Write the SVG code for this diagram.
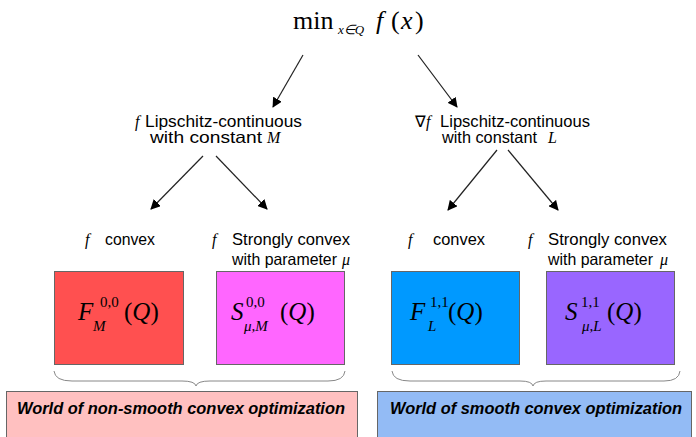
<svg xmlns="http://www.w3.org/2000/svg" width="696" height="437" viewBox="0 0 696 437">
<style>
.sans{font-family:"Liberation Sans",Arial,sans-serif;font-size:16.5px;fill:#000}
.math{font-family:"Liberation Serif","Times New Roman",serif;fill:#000}
.it{font-style:italic}
.box{stroke:#666;stroke-width:1}
.brace{fill:none;stroke:#888;stroke-width:1}
.world{font-family:"Liberation Sans",Arial,sans-serif;font-size:16.5px;font-weight:bold;font-style:italic;fill:#000}
.conn{stroke:#222;stroke-width:1.2;fill:none;marker-end:url(#ah)}
</style>
<defs>
<marker id="ah" viewBox="0 0 10 10" refX="9" refY="5" markerWidth="10" markerHeight="10" markerUnits="userSpaceOnUse" orient="auto">
<path d="M0,0 L10,5 L0,10 z" fill="#000"/>
</marker>
</defs>
<rect width="696" height="437" fill="#fff"/>

<g id="title">
<text class="math" x="293" y="29" font-size="26">min</text>
<text class="math it" x="338" y="34" font-size="13">x∈Q</text>
<text class="math it" x="376" y="29" font-size="26">f</text>
<text class="math" x="391" y="29" font-size="26">(</text>
<text class="math it" x="401" y="29" font-size="26">x</text>
<text class="math" x="415" y="29" font-size="26">)</text>
</g>

<g id="connectors">
<line class="conn" x1="303" y1="55" x2="273" y2="107"/>
<line class="conn" x1="418" y1="55" x2="457" y2="107"/>
<line class="conn" x1="203" y1="156" x2="151" y2="209"/>
<line class="conn" x1="216" y1="156" x2="267" y2="209"/>
<line class="conn" x1="497" y1="150" x2="448" y2="210"/>
<line class="conn" x1="508" y1="150" x2="558" y2="210"/>
</g>

<g id="lipschitz-f">
<text class="math it" x="135" y="127" font-size="16">f</text>
<text class="sans" x="145" y="127" textLength="157" lengthAdjust="spacingAndGlyphs">Lipschitz-continuous</text>
<text class="sans" x="150" y="143" textLength="112" lengthAdjust="spacingAndGlyphs">with constant</text>
<text class="math it" x="267" y="143" font-size="16">M</text>
</g>

<g id="lipschitz-grad">
<text class="math" x="415" y="127" font-size="16">∇<tspan class="it">f</tspan></text>
<text class="sans" x="440" y="127" textLength="150" lengthAdjust="spacingAndGlyphs">Lipschitz-continuous</text>
<text class="sans" x="442" y="143" textLength="95" lengthAdjust="spacingAndGlyphs">with constant</text>
<text class="math it" x="548" y="143" font-size="16">L</text>
</g>

<g id="label-convex-left">
<text class="math it" x="85" y="245" font-size="16">f</text>
<text class="sans" x="105" y="245" textLength="50" lengthAdjust="spacingAndGlyphs">convex</text>
</g>
<g id="label-strong-left">
<text class="math it" x="212" y="245" font-size="16">f</text>
<text class="sans" x="232" y="245" textLength="118" lengthAdjust="spacingAndGlyphs">Strongly convex</text>
<text class="sans" x="232" y="265" textLength="105" lengthAdjust="spacingAndGlyphs">with parameter</text>
<text class="math it" x="342" y="265" font-size="16">μ</text>
</g>
<g id="label-convex-right">
<text class="math it" x="408" y="245" font-size="16">f</text>
<text class="sans" x="433" y="245" textLength="52" lengthAdjust="spacingAndGlyphs">convex</text>
</g>
<g id="label-strong-right">
<text class="math it" x="528" y="245" font-size="16">f</text>
<text class="sans" x="548" y="245" textLength="119" lengthAdjust="spacingAndGlyphs">Strongly convex</text>
<text class="sans" x="548" y="265" textLength="105" lengthAdjust="spacingAndGlyphs">with parameter</text>
<text class="math it" x="660" y="265" font-size="16">μ</text>
</g>

<g id="box-F00">
<rect class="box" x="54.5" y="271.5" width="129" height="93" fill="#FF5050"/>
<text class="math it" x="78" y="320" font-size="25">F</text>
<text class="math" x="100" y="307" font-size="15">0,0</text>
<text class="math it" x="93" y="331" font-size="15">M</text>
<text class="math" x="124" y="320" font-size="25">(<tspan class="it">Q</tspan>)</text>
</g>
<g id="box-S00">
<rect class="box" x="216.5" y="271.5" width="128" height="93" fill="#FF66FF"/>
<text class="math it" x="231" y="320" font-size="25">S</text>
<text class="math" x="246" y="307" font-size="15">0,0</text>
<text class="math it" x="244" y="331" font-size="15">μ,M</text>
<text class="math" x="280" y="320" font-size="25">(<tspan class="it">Q</tspan>)</text>
</g>
<g id="box-F11">
<rect class="box" x="391.5" y="271.5" width="128" height="93" fill="#0099FF"/>
<text class="math it" x="410" y="320" font-size="25">F</text>
<text class="math" x="430" y="307" font-size="15">1,1</text>
<text class="math it" x="428" y="331" font-size="15">L</text>
<text class="math" x="448" y="320" font-size="25">(<tspan class="it">Q</tspan>)</text>
</g>
<g id="box-S11">
<rect class="box" x="546.5" y="271.5" width="128" height="93" fill="#9966FF"/>
<text class="math it" x="565" y="320" font-size="25">S</text>
<text class="math" x="581" y="307" font-size="15">1,1</text>
<text class="math it" x="582" y="331" font-size="15">μ,L</text>
<text class="math" x="607" y="320" font-size="25">(<tspan class="it">Q</tspan>)</text>
</g>

<g id="brace-left">
<path class="brace" d="M54,371 Q55,381 72,381 L182,381 Q195,381 196,386 Q197,381 210,381 L328,381 Q344,381 345,371"/>
</g>
<g id="brace-right">
<path class="brace" d="M392,371 Q393,381 410,381 L520,381 Q532,381 533,386 Q534,381 546,381 L664,381 Q679,381 680,371"/>
</g>

<g id="world-nonsmooth">
<rect class="box" x="6.5" y="391.5" width="351" height="50" fill="#FFC0C0"/>
<text class="world" x="17" y="414" textLength="328" lengthAdjust="spacingAndGlyphs">World of non-smooth convex optimization</text>
</g>
<g id="world-smooth">
<rect class="box" x="377.5" y="391.5" width="314" height="50" fill="#93BBF5"/>
<text class="world" x="390" y="414" textLength="292" lengthAdjust="spacingAndGlyphs">World of smooth convex optimization</text>
</g>
</svg>
